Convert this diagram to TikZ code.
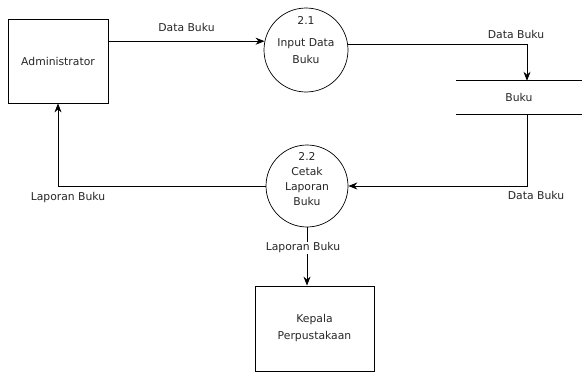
\documentclass[tikz,border=0pt]{standalone}
\usepackage{fontspec}
\setmainfont{DejaVu Sans}
\usetikzlibrary{arrows.meta, positioning}

\begin{document}
\begin{tikzpicture}[x=1pt, y=-1pt,
  every node/.style={font=\fontsize{10.8}{15}\selectfont, text=black!85},
  entity/.style={draw, line width=0.8pt, align=center},
  process/.style={draw, circle, line width=0.7pt},
  flow/.style={line width=0.8pt, -{Stealth[length=9pt, width=7pt]}}]
  \useasboundingbox (0,0) rectangle (582,372);

  % external entities
  \node[entity, minimum width=100pt, minimum height=84pt] (admin) at (58,61) {Administrator};
  \node[entity, minimum width=119pt, minimum height=85pt] (kepala) at (314.5,328.5) {Kepala\\[2pt]Perpustakaan};

  % processes
  \node[process, minimum size=84pt] (p21) at (306,50) {};
  \node[align=center] (p21txt) at (306,40) {2.1\\[7pt]Input Data\\[2pt]Buku};
  \node[process, minimum size=82pt] (p22) at (307,186) {};
  \node[align=center] (p22txt) at (307,179.5) {2.2\\Cetak\\Laporan\\Buku};

  % data store
  \node[minimum width=126pt, minimum height=33pt] (store) at (519,97.5) {Buku};
  \draw[line width=0.8pt] (store.north west) -- (store.north east)
                          (store.south west) -- (store.south east);

  % flows
  \draw[flow] (admin.east |- p21.168) -- node[above=6pt] (lbl1) {Data Buku} (p21.168);
  \draw[flow] (p21.8) -| node[pos=0.5, above=2pt, xshift=-11pt] (lbl2) {Data Buku} ([xshift=8pt]store.north);
  \draw[flow] ([xshift=8pt]store.south) |- node[pos=0.5, below=2pt, xshift=9pt] (lbl3) {Data Buku} (p22.east);
  \draw[flow] (p22.west) -| node[pos=0.5, below=3pt, xshift=10pt] (lbl4) {Laporan Buku} (admin.south);
  \draw[flow] (p22.south) -- node[pos=0.35, fill=white, inner sep=1pt, xshift=-4pt] (lbl5) {Laporan Buku} (kepala.north -| p22.south);
\end{tikzpicture}
\end{document}
